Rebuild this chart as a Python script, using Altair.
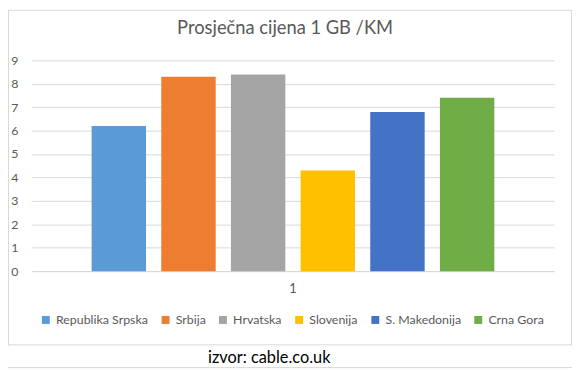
import altair as alt
import pandas as pd

# ---- data ----
series = ["Republika Srpska", "Srbija", "Hrvatska", "Slovenija", "S. Makedonija", "Crna Gora"]
values = [6.2, 8.3, 8.4, 4.3, 6.8, 7.4]
category = ["1"] * 6
colors = ["#5B9BD5", "#ED7D31", "#A5A5A5", "#FFC000", "#4472C4", "#70AD47"]
title_text = ["Prosječna cijena 1 GB /KM"]
source_text = ["izvor: cable.co.uk"]
y_ticks = [0, 1, 2, 3, 4, 5, 6, 7, 8, 9]

FONT = "Lato"
GRAY_TXT = "#595959"
GRID = "#d9d9d9"

df = pd.DataFrame({"cat": category, "series": series, "value": values})

bars = alt.Chart(df).mark_bar(size=55).encode(
    x=alt.X("cat:N", title=None,
            scale=alt.Scale(paddingInner=0, paddingOuter=0.148),
            axis=alt.Axis(labelAngle=0, ticks=False, domain=True, domainColor=GRID,
                          labelPadding=12, labelFontSize=13, labelColor=GRAY_TXT,
                          labelFont=FONT, grid=False)),
    xOffset=alt.XOffset("series:N", sort=series,
                        scale=alt.Scale(paddingInner=0.213, paddingOuter=0)),
    y=alt.Y("value:Q", title=None,
            scale=alt.Scale(domain=[0, 9], nice=False),
            axis=alt.Axis(values=y_ticks, ticks=False, domain=False, grid=True,
                          gridColor=GRID, labelPadding=14, labelFontSize=12.5,
                          labelColor=GRAY_TXT, labelFont=FONT)),
    color=alt.Color("series:N", sort=series,
                    scale=alt.Scale(domain=series, range=colors),
                    legend=alt.Legend(orient="none", legendX=8, legendY=256,
                                      direction="horizontal", title=None,
                                      symbolType="square", symbolSize=64,
                                      symbolStrokeWidth=0, labelFontSize=12.5,
                                      labelColor=GRAY_TXT, labelFont=FONT,
                                      columnPadding=11, labelOffset=4)),
)

title = alt.Chart(pd.DataFrame({"t": title_text})).mark_text(
    font=FONT, fontSize=18.5, color=GRAY_TXT, align="center", baseline="middle"
).encode(text="t:N", x=alt.value(256), y=alt.value(-33))

source = alt.Chart(pd.DataFrame({"t": source_text})).mark_text(
    font=FONT, fontSize=16.5, color="#000000", align="center", baseline="middle"
).encode(text="t:N", x=alt.value(240), y=alt.value(301))

def hline(x1, x2, y):
    return alt.Chart(pd.DataFrame({"a": [0]})).mark_rule(color=GRID, strokeWidth=1).encode(
        x=alt.value(x1), x2=alt.value(x2), y=alt.value(y))

def vline(x, y1, y2):
    return alt.Chart(pd.DataFrame({"a": [0]})).mark_rule(color=GRID, strokeWidth=1).encode(
        x=alt.value(x), y=alt.value(y1), y2=alt.value(y2))

borders = (
    hline(-24, 546, -50.5)      # chart box top
    + hline(-24, 546, 287.5)    # chart box bottom
    + vline(-23.5, -51, 288)    # chart box left
    + vline(545.5, -51, 288)    # chart box right
    + hline(-24, 546, 310.5)    # source box bottom
)

chart = alt.layer(bars, title, source, borders).properties(
    width=528, height=213,
    autosize=alt.AutoSizeParams(type="none"),
    padding={"left": 24, "top": 51, "right": 18, "bottom": 98},
    background="white",
).configure_view(stroke=None)

chart.save("out.html", embed_options={"renderer": "svg", "actions": False})
